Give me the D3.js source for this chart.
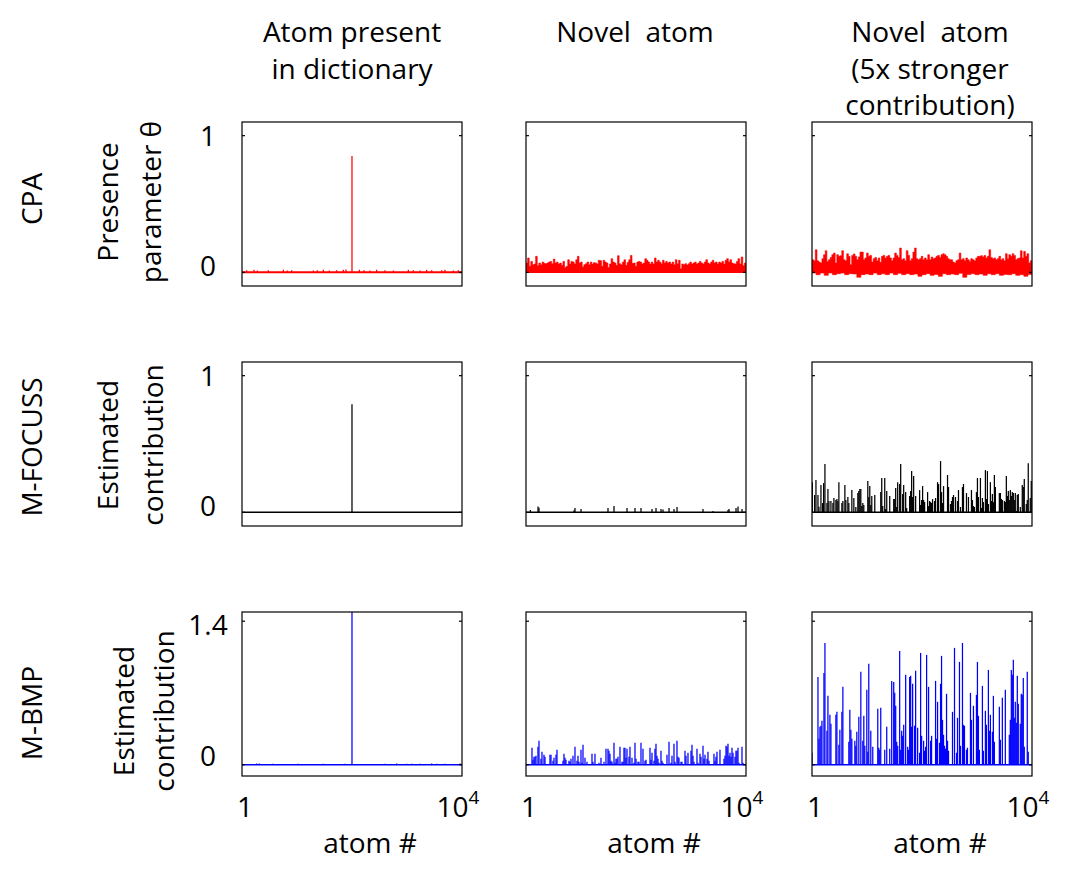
<!DOCTYPE html>
<html>
<head>
<meta charset="utf-8">
<script src="https://cdn.jsdelivr.net/npm/d3@7"></script>
<style>
  body { margin: 0; background: #fff; }
  text { font-family: "Open Sans", sans-serif; fill: #000; white-space: pre; }
</style>
</head>
<body>
<svg id="chart" width="1072" height="883"></svg>
<script>
const atomMax = 10000;

const rowLabels = ["CPA", "M-FOCUSS", "M-BMP"];
const colTitles = [["Atom present", "in dictionary"],
                   ["Novel  atom"],
                   ["Novel  atom", "(5x stronger", "contribution)"]];
const yLabels = [["Presence", "parameter θ"],
                 ["Estimated", "contribution"],
                 ["Estimated", "contribution"]];
const yTicks = [[0, 1], [0, 1], [0, 1.4]];
const xTickLabels = ["1", "10", "4"];   // "10" with superscript "4"
const xLabel = "atom #";
const rowColors = ["#ff0000", "#000000", "#0000ff"];

// CPA, atom present in dictionary: line at 0 with one spike
const cpaDictAtoms = [213,545,697,1197,1879,2061,2258,3242,3424,3697,
                      3970,4303,4606,4727,5000,5333,5545,5818,6121,6500,
                      6879,7561,7788,8091,8394,8621,9076,9227,9606,9833];
const cpaDictVals = [.016,.018,.014,.016,.018,.014,.016,.014,.016,.018,
                     .014,.016,.018,.02,.852,.018,.016,.014,.018,.016,
                     .014,.018,.016,.014,.018,.016,.016,.018,.014,.016];

// CPA, novel atom: upper envelope of the dense noisy line (equal bins over atoms)
const cpaNovelHigh = [.068,.105,.044,.080,.056,.061,.117,.049,.068,.056,.075,.066,.063,.068,.075,.080,.063,.097,.068,.075,
  .061,.068,.051,.080,.036,.044,.092,.061,.080,.075,.061,.092,.117,.068,.075,.039,.056,.063,.075,.056,
  .075,.061,.071,.068,.061,.088,.085,.044,.088,.075,.068,.036,.061,.100,.075,.068,.051,.122,.063,.056,
  .075,.092,.051,.073,.092,.124,.066,.068,.044,.075,.080,.075,.061,.068,.100,.088,.075,.061,.075,.061,
  .105,.075,.088,.075,.063,.088,.068,.080,.068,.075,.061,.075,.056,.092,.063,.088,.027,.061,.056,.063,
  .054,.063,.075,.061,.068,.075,.061,.068,.080,.068,.061,.075,.092,.068,.061,.075,.088,.068,.075,.061,
  .075,.068,.080,.061,.088,.100,.075,.092,.068,.063,.061,.080,.100,.061,.112,.049,.068];

// CPA, novel atom 5x: upper and lower envelopes
const cpaStrongHigh = [.092,.085,.165,.085,.075,.068,.100,.129,.158,.080,.092,.109,.129,.141,.068,.129,.117,.122,.158,.092,
  .085,.136,.117,.056,.124,.134,.117,.092,.112,.148,.148,.092,.105,.141,.117,.124,.075,.100,.109,.085,
  .105,.073,.117,.124,.105,.117,.124,.105,.085,.105,.141,.124,.109,.178,.092,.100,.085,.158,.124,.085,
  .100,.148,.178,.100,.092,.100,.117,.092,.105,.092,.129,.092,.112,.100,.105,.117,.124,.109,.129,.136,
  .129,.117,.100,.092,.092,.075,.068,.085,.092,.141,.092,.100,.085,.105,.092,.080,.100,.092,.085,.105,
  .117,.117,.122,.112,.124,.105,.117,.165,.109,.100,.105,.092,.100,.117,.092,.100,.085,.136,.100,.129,
  .117,.136,.124,.092,.100,.105,.158,.105,.153,.117,.136,.068,.085];
const cpaStrongLow = [-.005,-.017,-.005,-.022,-.005,-.017,-.010,-.005,-.017,-.010,-.012,-.036,-.017,-.012,-.017,-.005,-.017,-.010,
  -.017,-.005,-.017,-.007,-.017,-.010,-.017,-.012,-.029,-.017,-.010,-.022,-.015,-.029,-.010,-.017,-.012,-.017,
  -.007,-.036,-.015,-.010,-.017,-.012,-.022,-.010,-.017,-.010,-.022,-.015,-.017,-.010,-.022,-.017,-.029,-.015];

// M-FOCUSS
const focussDictAtoms = [5000];
const focussDictVals = [0.79];
const focussNovelAtoms = [199,547,592,2183,2228,2501,3728,4001,4592,4955,5228,5728,5910,6137,6228,6501,6728,6864,8046,8500,9182,9228,9546,9637,9819];
const focussNovelVals = [.017,.042,.034,.015,.031,.024,.031,.046,.031,.031,.031,.024,.031,.024,.020,.031,.024,.039,.024,.010,.017,.024,.031,.042,.024];
const focussStrongAtoms = [15,121,181,272,317,408,483,529,589,680,725,770,861,951,997,1087,1133,1178,1223,1359,
  1404,1495,1540,1631,1676,1812,1903,1993,2084,2129,2174,2220,2265,2310,2356,2537,2582,2627,2673,2718,
  2854,3126,3171,3216,3307,3352,3398,3533,3715,3760,3805,3851,3896,3986,4032,4122,4168,4258,4304,4439,
  4485,4530,4575,4621,4711,4892,4938,4983,5028,5074,5119,5255,5300,5345,5391,5436,5481,5572,5617,5708,
  5753,5844,5889,5934,5980,6161,6206,6297,6342,6387,6433,6523,6614,6659,6750,6840,6886,7022,7112,7248,
  7293,7339,7384,7475,7520,7565,7656,7701,7746,7792,7882,7928,7973,8018,8109,8154,8199,8245,8290,8335,
  8516,8562,8607,8652,8743,8788,8834,8879,8924,8969,9015,9060,9105,9151,9196,9241,9287,9332,9377,9468,
  9558,9604,9649,9740,9785,9830,9921,9966];
const focussStrongVals = [.221,.127,.236,.127,.041,.200,.068,.214,.353,.068,.170,.083,.083,.068,.105,.090,.097,.083,.221,.068,
  .083,.200,.090,.112,.068,.163,.105,.039,.141,.156,.170,.170,.046,.068,.054,.229,.112,.192,.054,.119,
  .127,.148,.251,.046,.251,.024,.156,.119,.097,.097,.178,.039,.221,.207,.353,.134,.200,.148,.032,.119,
  .156,.302,.112,.265,.119,.163,.054,.090,.192,.090,.075,.148,.046,.083,.075,.068,.097,.083,.105,.221,
  .207,.375,.148,.068,.192,.273,.185,.061,.083,.112,.127,.112,.083,.163,.039,.185,.207,.141,.112,.163,
  .090,.046,.039,.148,.251,.112,.251,.032,.105,.075,.309,.097,.302,.061,.221,.083,.134,.075,.273,.185,
  .141,.141,.097,.090,.083,.075,.265,.119,.156,.090,.163,.119,.148,.141,.090,.141,.010,.127,.134,.039,
  .200,.185,.243,.061,.090,.360,.105,.229];

// M-BMP
const bmpDictAtoms = [668,786,1395,2559,3695,4682,5000,6500,7031,7486,7713,8090,8621,8849,9226,9908];
const bmpDictVals = [.012,.012,.01,.01,.01,.01,1.5,.01,.012,.01,.01,.01,.012,.01,.01,.012];
const bmpNovelAtoms = [273,318,364,409,455,545,591,682,727,818,864,1091,1136,1227,1273,1364,1409,1682,1727,1773,
  1818,1954,2000,2045,2136,2227,2318,2364,2409,2500,2545,2591,2682,2772,3000,3045,3136,3318,3409,3545,
  3636,3727,3772,3818,3863,3909,4000,4045,4091,4136,4182,4272,4363,4409,4454,4500,4545,4590,4681,4727,
  4818,4909,4954,5000,5090,5136,5227,5318,5409,5454,5636,5681,5727,5818,5863,5909,5954,6000,6045,6136,
  6181,6227,6409,6500,6590,6636,6727,6772,6863,6909,6954,7045,7090,7227,7272,7363,7500,7545,7590,7636,
  7772,7818,7909,7954,8045,8091,8136,8227,8272,8318,8545,8590,8636,8681,8817,9000,9045,9091,9136,9181,
  9227,9272,9318,9363,9409,9500,9545,9590,9636,9681,9818,9863];
const bmpNovelVals = [.166,.049,.078,.078,.088,.175,.234,.058,.127,.097,.078,.097,.097,.039,.068,.097,.146,.039,.107,.068,
  .049,.039,.029,.058,.088,.175,.039,.088,.029,.146,.019,.195,.068,.029,.107,.029,.107,.019,.068,.029,
  .156,.156,.136,.107,.039,.029,.214,.019,.058,.058,.078,.175,.029,.029,.166,.166,.068,.156,.078,.175,
  .068,.019,.214,.058,.029,.029,.214,.156,.039,.049,.166,.049,.117,.039,.156,.205,.088,.058,.019,.136,
  .039,.019,.097,.224,.019,.088,.205,.029,.234,.078,.068,.029,.029,.136,.088,.117,.136,.195,.088,.029,
  .156,.019,.107,.078,.185,.058,.097,.058,.127,.039,.107,.039,.078,.127,.146,.058,.088,.185,.175,.205,
  .088,.117,.078,.166,.117,.078,.136,.136,.166,.019,.175,.019];
const bmpStrongAtoms = [1,272,317,362,408,453,544,589,680,725,815,861,1087,1133,1223,1268,1359,1404,1676,1721,
  1767,1812,1948,1993,2038,2129,2220,2310,2356,2401,2492,2537,2582,2673,2763,2990,3035,3080,3126,3307,
  3398,3533,3624,3715,3760,3805,3851,3896,3986,4032,4077,4122,4168,4258,4349,4394,4439,4485,4530,4575,
  4666,4711,4802,4892,4938,4983,5074,5119,5164,5210,5300,5391,5436,5617,5662,5708,5798,5844,5889,5934,
  5980,6025,6070,6116,6161,6206,6387,6478,6569,6614,6704,6750,6840,6886,6931,7022,7067,7203,7248,7339,
  7475,7520,7565,7610,7746,7792,7882,7928,8018,8064,8109,8199,8245,8290,8516,8562,8652,8788,8969,9015,
  9060,9105,9151,9196,9241,9287,9332,9377,9468,9513,9558,9604,9649,9785,9830];
const bmpStrongVals = [.117,.857,.253,.370,.380,.429,.896,1.188,.331,.672,.487,.399,.487,.516,.195,.341,.516,.760,.224,.536,
  .341,.253,.234,.185,.321,.468,.906,.234,.477,.185,.731,.127,.984,.331,.175,.545,.166,.146,.555,.146,
  .370,.156,.818,.808,.701,.575,.224,.185,1.110,.146,.331,.282,.390,.877,.175,.146,.857,.867,.370,.789,
  .380,.916,.360,.117,1.091,.282,.234,.136,.175,1.071,.760,.234,.282,.818,.253,.614,.214,.789,1.062,.438,
  .292,.185,.156,.692,.234,.136,.516,1.140,.117,.458,1.003,.185,1.188,.390,.380,.146,.166,.701,.438,.575,
  .682,1.003,.477,.146,.769,.136,.526,.390,.925,.331,.487,.321,.672,.224,.565,.244,.653,.731,.292,.438,
  .925,.877,1.023,.458,.614,.409,.867,.594,.399,.692,.682,.847,.175,.906,.127];

const panels = [
  [{atoms: cpaDictAtoms, vals: cpaDictVals, base: 2},
   {high: cpaNovelHigh},
   {high: cpaStrongHigh, low: cpaStrongLow}],
  [{atoms: focussDictAtoms, vals: focussDictVals},
   {atoms: focussNovelAtoms, vals: focussNovelVals},
   {atoms: focussStrongAtoms, vals: focussStrongVals}],
  [{atoms: bmpDictAtoms, vals: bmpDictVals},
   {atoms: bmpNovelAtoms, vals: bmpNovelVals},
   {atoms: bmpStrongAtoms, vals: bmpStrongVals}]
];

// layout
const colX = [242, 526, 812], rowY = [122, 362, 612];
const boxW = 220, boxH = 164;
const yDomains = [[-0.1, 1.1], [-0.1, 1.1], [-0.11, 1.49]];
const tickDy = [[4, 10], [4, 10], [1, 14]];
const rowLabelY = [199, 447, 713];
const yLabelY = [202, 445, 711];
const yLabelX = [[118, 161], [118, 163], [134, 174]];
const titleX = [352, 635, 930];

const svg = d3.select("#chart");

panels.forEach((row, r) => row.forEach((p, c) => drawPanel(p, r, c)));

function drawPanel(p, r, c) {
  const x = d3.scaleLinear().domain([1, atomMax]).range([0, boxW]);
  const y = d3.scaleLinear().domain(yDomains[r]).range([boxH, 0]);
  const color = rowColors[r];
  const g = svg.append("g").attr("transform", `translate(${colX[c]},${rowY[r]})`);

  const clipId = `clip-${r}-${c}`;
  g.append("clipPath").attr("id", clipId)
    .append("rect").attr("width", boxW).attr("height", boxH);
  const plot = g.append("g").attr("clip-path", `url(#${clipId})`);

  // dense line panels drawn as their min/max envelope
  if (p.high) {
    plot.append("path").datum(binPoints(p.high))
      .attr("d", d3.area().curve(d3.curveStepAfter)
        .x(d => x(d.a)).y0(y(0)).y1(d => y(d.v)))
      .attr("fill", color).attr("stroke", color).attr("stroke-width", 0.6);
  }
  if (p.low) {
    plot.append("path").datum(binPoints(p.low))
      .attr("d", d3.area().curve(d3.curveStepAfter)
        .x(d => x(d.a)).y0(d => y(d.v)).y1(y(0)))
      .attr("fill", color).attr("stroke", color).attr("stroke-width", 0.6);
  }

  // baseline
  plot.append("line")
    .attr("x1", 0).attr("x2", boxW)
    .attr("y1", y(0)).attr("y2", y(0))
    .attr("stroke", color).attr("stroke-width", p.base || 1.5);

  // stems
  if (p.atoms) {
    plot.selectAll("line.stem")
      .data(p.atoms.map((a, i) => ({a, v: p.vals[i]})))
      .join("line")
      .attr("class", "stem")
      .attr("x1", d => x(d.a)).attr("x2", d => x(d.a))
      .attr("y1", y(0)).attr("y2", d => y(d.v))
      .attr("stroke", color).attr("stroke-width", 1.25);
  }

  // box + inward ticks
  g.append("rect").attr("width", boxW).attr("height", boxH)
    .attr("fill", "none").attr("stroke", "#000").attr("stroke-width", 1.2);
  yTicks[r].forEach(t => {
    g.append("line").attr("x1", 0).attr("x2", 3).attr("y1", y(t)).attr("y2", y(t))
      .attr("stroke", "#000").attr("stroke-width", 1.2);
    g.append("line").attr("x1", boxW - 3).attr("x2", boxW).attr("y1", y(t)).attr("y2", y(t))
      .attr("stroke", "#000").attr("stroke-width", 1.2);
  });

  if (c === 0) {
    yTicks[r].forEach((t, i) => {
      g.append("text")
        .attr("x", -34).attr("y", y(t) + tickDy[r][i])
        .attr("text-anchor", "middle").attr("font-size", 28)
        .text(t);
    });
    svg.append("text")
      .attr("transform", `translate(42,${rowLabelY[r]}) rotate(-90)`)
      .attr("text-anchor", "middle").attr("font-size", 28)
      .text(rowLabels[r]);
    yLabels[r].forEach((s, i) => {
      svg.append("text")
        .attr("transform", `translate(${yLabelX[r][i]},${yLabelY[r]}) rotate(-90)`)
        .attr("text-anchor", "middle").attr("font-size", 28)
        .text(s);
    });
  }

  if (r === 2) {
    g.append("text")
      .attr("x", x(1) + 3).attr("y", boxH + 41)
      .attr("text-anchor", "middle").attr("font-size", 28)
      .text(xTickLabels[0]);
    const t = g.append("text")
      .attr("x", x(atomMax) - 4).attr("y", boxH + 41)
      .attr("text-anchor", "middle").attr("font-size", 28);
    t.append("tspan").text(xTickLabels[1]);
    t.append("tspan").attr("dy", -13).attr("font-size", 19).text(xTickLabels[2]);
    g.append("text")
      .attr("x", boxW / 2 + 18).attr("y", boxH + 77)
      .attr("text-anchor", "middle").attr("font-size", 28)
      .text(xLabel);
  }

  if (r === 0) {
    colTitles[c].forEach((s, i) => {
      svg.append("text")
        .attr("x", titleX[c]).attr("y", 42 + i * 36.5)
        .attr("text-anchor", "middle").attr("font-size", 28)
        .text(s);
    });
  }
}

function binPoints(vals) {
  const step = (atomMax - 1) / vals.length;
  const pts = vals.map((v, i) => ({a: 1 + i * step, v}));
  pts.push({a: atomMax, v: vals[vals.length - 1]});
  return pts;
}
</script>
</body>
</html>
